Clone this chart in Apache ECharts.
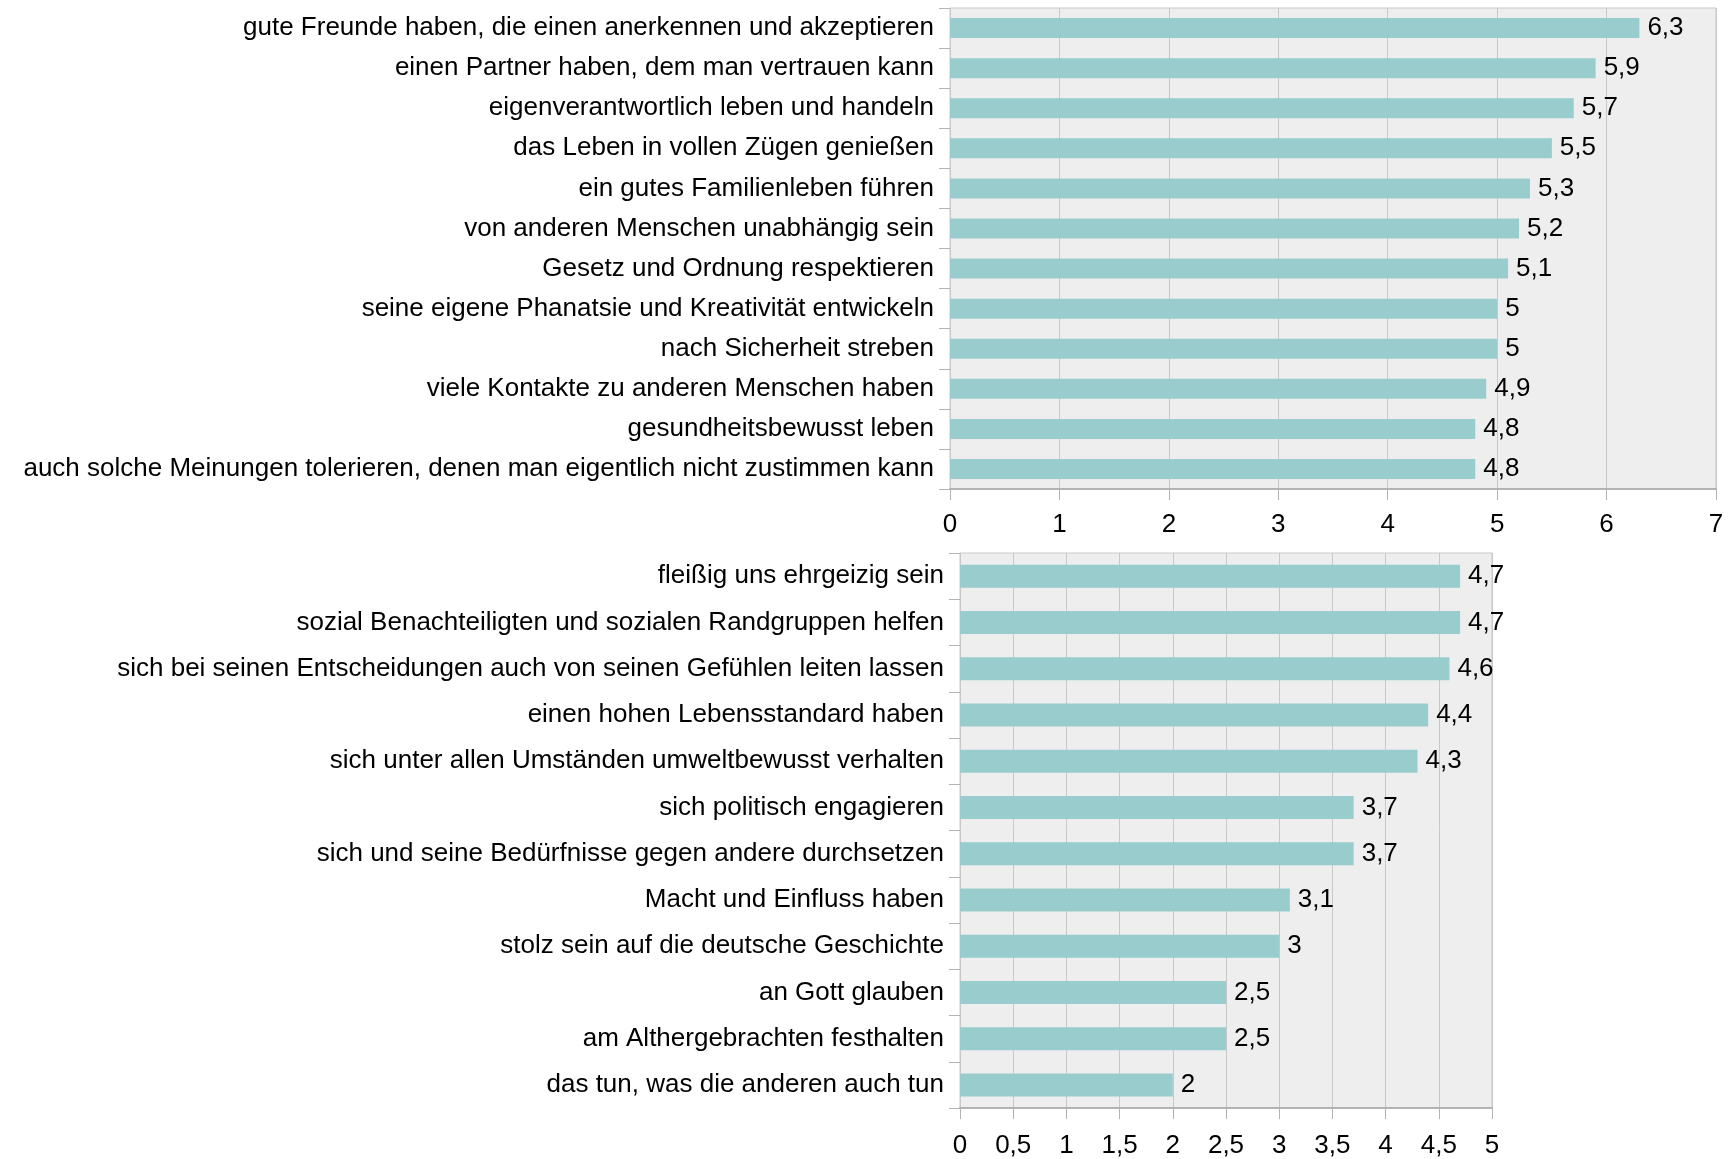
<!DOCTYPE html>
<html>
<head>
<meta charset="utf-8">
<script src="https://cdn.jsdelivr.net/npm/echarts@6/dist/echarts.min.js"></script>
<style>
  html, body { margin: 0; padding: 0; background: #fff; }
  #chart { width: 1736px; height: 1159px; }
</style>
</head>
<body>
<div id="chart"></div>
<script>
// oberer Block (Werte 0..7)
const topLabels = [
  'gute Freunde haben, die einen anerkennen und akzeptieren',
  'einen Partner haben, dem man vertrauen kann',
  'eigenverantwortlich leben und handeln',
  'das Leben in vollen Zügen genießen',
  'ein gutes Familienleben führen',
  'von anderen Menschen unabhängig sein',
  'Gesetz und Ordnung respektieren',
  'seine eigene Phanatsie und Kreativität entwickeln',
  'nach Sicherheit streben',
  'viele Kontakte zu anderen Menschen haben',
  'gesundheitsbewusst leben',
  'auch solche Meinungen tolerieren, denen man eigentlich nicht zustimmen kann',
]
const topValues = [6.3, 5.9, 5.7, 5.5, 5.3, 5.2, 5.1, 5, 5, 4.9, 4.8, 4.8]

// unterer Block (Werte 0..5)
const bottomLabels = [
  'fleißig uns ehrgeizig sein',
  'sozial Benachteiligten und sozialen Randgruppen helfen',
  'sich bei seinen Entscheidungen auch von seinen Gefühlen leiten lassen',
  'einen hohen Lebensstandard haben',
  'sich unter allen Umständen umweltbewusst verhalten',
  'sich politisch engagieren',
  'sich und seine Bedürfnisse gegen andere durchsetzen',
  'Macht und Einfluss haben',
  'stolz sein auf die deutsche Geschichte',
  'an Gott glauben',
  'am Althergebrachten festhalten',
  'das tun, was die anderen auch tun',
]
const bottomValues = [4.7, 4.7, 4.6, 4.4, 4.3, 3.7, 3.7, 3.1, 3, 2.5, 2.5, 2]

const FONT = 'Liberation Sans'
const FS = 26
const comma = (v) => String(v).replace('.', ',')

const xAxisFor = (gridIndex, max, interval, margin) => ({
  type: 'value',
  gridIndex: gridIndex,
  min: 0,
  max: max,
  interval: interval,
  axisLine: { show: true, lineStyle: { color: '#b3b3b3', width: 2 } },
  axisTick: { show: true, length: 11, lineStyle: { color: '#b3b3b3' } },
  axisLabel: { color: '#000', fontFamily: FONT, fontSize: FS, margin: margin, formatter: comma },
  splitLine: { show: true, lineStyle: { color: '#c8c8c8', width: 1 } },
})

const yAxisFor = (gridIndex, labels) => ({
  type: 'category',
  gridIndex: gridIndex,
  inverse: true, // erste Kategorie oben
  data: labels,
  axisLine: { show: false },
  axisTick: { show: true, length: 11, lineStyle: { color: '#b3b3b3' } },
  axisLabel: { color: '#000', fontFamily: FONT, fontSize: FS, margin: 16, padding: [5, 0, 0, 0] },
  splitLine: { show: false },
})

const barSeries = (idx, values, width) => ({
  type: 'bar',
  xAxisIndex: idx,
  yAxisIndex: idx,
  data: values,
  barWidth: width,
  itemStyle: { color: '#99cccc' },
  label: {
    show: true,
    position: 'right',
    distance: 8,
    color: '#000',
    fontFamily: FONT,
    fontSize: FS,
    padding: [5, 0, 0, 0],
    formatter: (p) => comma(p.value),
  },
  silent: true,
})

const chart = echarts.init(document.getElementById('chart'))
chart.setOption({
  animation: false,
  backgroundColor: '#fff',
  grid: [
    { left: 950, top: 8, width: 766, height: 481, show: true, backgroundColor: '#eeeeee', borderColor: '#c8c8c8', borderWidth: 1 },
    { left: 960, top: 553, width: 532, height: 558, show: true, backgroundColor: '#eeeeee', borderColor: '#c8c8c8', borderWidth: 1 },
  ],
  xAxis: [xAxisFor(0, 7, 1, 23), xAxisFor(1, 5, 0.5, 25)],
  yAxis: [yAxisFor(0, topLabels), yAxisFor(1, bottomLabels)],
  series: [barSeries(0, topValues, 20), barSeries(1, bottomValues, 23)],
})
</script>
</body>
</html>
